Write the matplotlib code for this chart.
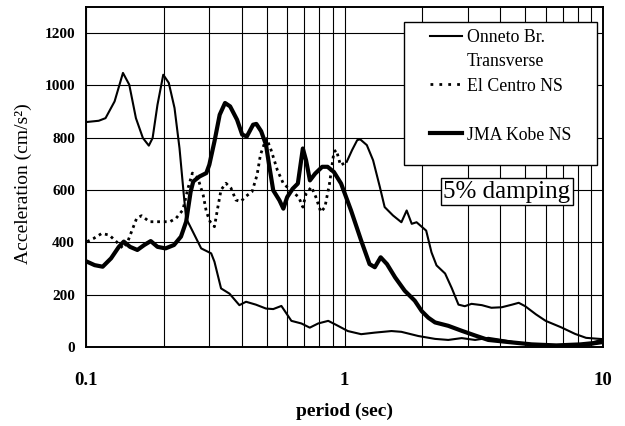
import matplotlib
matplotlib.use("Agg")
import matplotlib.pyplot as plt
from matplotlib.lines import Line2D
from matplotlib.patches import Rectangle
from matplotlib.ticker import LogLocator, FixedLocator, NullFormatter
import numpy as np

plt.rcParams['font.family'] = ['Liberation Serif', 'DejaVu Serif']

# ---------------- data ----------------
onneto_period = [0.100, 0.112, 0.119, 0.129, 0.139, 0.147, 0.156, 0.166, 0.175, 0.181,
                 0.189, 0.199, 0.209, 0.220, 0.230, 0.239, 0.244, 0.259, 0.279, 0.305,
                 0.314, 0.333, 0.359, 0.392, 0.416, 0.454, 0.497, 0.530, 0.570, 0.623,
                 0.681, 0.734, 0.791, 0.865, 0.931, 1.03, 1.16, 1.31, 1.52, 1.66,
                 1.93, 2.24, 2.52, 2.84, 3.2, 3.6, 4.06, 4.9, 5.8, 6.9, 8.6, 10.0]
onneto_acc = [860, 865, 875, 939, 1048, 1003, 875, 799, 770, 799,
              926, 1041, 1010, 914, 760, 581, 492, 441, 377, 358,
              326, 224, 204, 160, 173, 162, 147, 145, 157, 100,
              90, 74, 90, 100, 84, 61, 49, 55, 61, 58,
              42, 31, 27, 34, 27, 35, 27, 12, 6, 3, 6, 15]

elcentro_period = [0.101, 0.107, 0.115, 0.123, 0.131, 0.139, 0.145, 0.157, 0.164, 0.176,
                   0.193, 0.211, 0.223, 0.237, 0.248, 0.258, 0.271, 0.284, 0.292, 0.302,
                   0.314, 0.323, 0.333, 0.348, 0.364, 0.380, 0.397, 0.414, 0.439, 0.459,
                   0.473, 0.490, 0.500, 0.520, 0.550, 0.580, 0.610, 0.665, 0.690, 0.710,
                   0.745, 0.775, 0.810, 0.840, 0.875, 0.910, 0.930, 0.965, 1.02, 1.07,
                   1.12, 1.15, 1.22, 1.29, 1.37, 1.43, 1.54, 1.66, 1.74, 1.82,
                   1.90, 2.07, 2.17, 2.27, 2.45, 2.60, 2.76, 2.92, 3.1, 3.4,
                   3.7, 4.06, 4.45, 4.72, 5.0, 5.5, 6.0, 6.9, 7.8, 8.6, 9.7, 10.0]
elcentro_acc = [403, 415, 434, 428, 403, 377, 403, 492, 502, 479,
                479, 479, 492, 524, 607, 665, 645, 581, 518, 479,
                460, 530, 601, 626, 607, 562, 556, 575, 594, 658,
                735, 778, 797, 753, 676, 625, 605, 573, 535, 586,
                612, 573, 516, 535, 625, 746, 753, 695, 708, 753,
                791, 794, 772, 714, 612, 535, 503, 477, 522, 471,
                477, 445, 362, 312, 281, 225, 162, 156, 165, 160,
                150, 152, 162, 169, 156, 125, 100, 75, 50, 35, 31, 30]

kobe_period = [0.101, 0.108, 0.116, 0.125, 0.134, 0.140, 0.148, 0.158, 0.168, 0.178,
               0.189, 0.203, 0.219, 0.233, 0.244, 0.254, 0.260, 0.275, 0.292, 0.300,
               0.314, 0.329, 0.345, 0.361, 0.384, 0.402, 0.419, 0.443, 0.456, 0.476,
               0.497, 0.510, 0.530, 0.560, 0.580, 0.600, 0.630, 0.660, 0.690, 0.710,
               0.735, 0.770, 0.820, 0.860, 0.910, 0.970, 1.06, 1.16, 1.25, 1.31,
               1.38, 1.46, 1.57, 1.71, 1.87, 1.99, 2.11, 2.24, 2.52, 2.84,
               3.2, 3.6, 4.3, 5.3, 6.6, 8.2, 9.2, 10.0]
kobe_acc = [326, 313, 307, 339, 383, 403, 383, 371, 390, 405,
            383, 377, 390, 422, 479, 594, 633, 652, 665, 697,
            786, 888, 933, 920, 869, 812, 805, 850, 853, 825,
            773, 701, 599, 561, 529, 573, 605, 625, 759, 714,
            637, 663, 689, 689, 669, 625, 522, 407, 317, 305,
            343, 317, 266, 215, 177, 137, 112, 94, 81, 62,
            44, 27, 19, 10, 6, 10, 15, 25]

y_ticks = [0, 200, 400, 600, 800, 1000, 1200]
x_ticks = [0.1, 1, 10]
x_ticklabels = ["0.1", "1", "10"]

labels = ["Onneto Br.", "Transverse", "El Centro NS", " ", "JMA Kobe NS"]
damping_text = "5% damping"

# ---------------- figure ----------------
fig = plt.figure(figsize=(6.25, 4.26), dpi=100)
ax = fig.add_axes([86 / 625, 1 - 347 / 426, 517 / 625, 340 / 426])

ax.set_xscale('log')
ax.set_xlim(0.1, 10)
ax.set_ylim(0, 1300)

ax.plot(onneto_period, onneto_acc, color='black', lw=1.5, zorder=3,
        solid_joinstyle='round')

ec_p = np.array(elcentro_period)
ec_a = np.array(elcentro_acc)
m1 = ec_p <= 1.02
m2 = ec_p >= 1.02
ax.plot(ec_p[m1], ec_a[m1], color='black', lw=2.0, linestyle=(0, (1.0, 1.4)), zorder=3)
ax.plot(ec_p[m2], ec_a[m2], color='black', lw=1.5, zorder=3, solid_joinstyle='round')

ax.plot(kobe_period, kobe_acc, color='black', lw=3.0, zorder=3, solid_joinstyle='round')

# grid
ax.xaxis.set_major_locator(FixedLocator(x_ticks))
ax.xaxis.set_minor_locator(LogLocator(base=10, subs=np.arange(2, 10)))
ax.xaxis.set_minor_formatter(NullFormatter())
ax.set_xticklabels(x_ticklabels)
ax.set_yticks(y_ticks)
ax.grid(True, which='major', axis='both', color='black', lw=0.8, zorder=1)
ax.grid(True, which='minor', axis='x', color='black', lw=0.8, zorder=1)
ax.set_axisbelow(True)

ax.tick_params(axis='both', which='both', length=0)
ax.tick_params(axis='x', pad=18, labelsize=13.5)
ax.tick_params(axis='y', pad=8, labelsize=11)
for t in ax.get_xticklabels() + ax.get_yticklabels():
    t.set_fontweight('bold')

for s in ax.spines.values():
    s.set_linewidth(1.4)

ax.set_xlabel("period (sec)", fontsize=14, fontweight='bold', va='center')
ax.xaxis.set_label_coords(0.5, -0.19)
ax.set_ylabel("Acceleration (cm/s²)", fontsize=14, va='center')
ax.yaxis.set_label_coords(-0.122, 0.48)

# legend box
ax.add_patch(Rectangle((0.615, 0.535), 0.373, 0.421, transform=ax.transAxes,
                       facecolor='white', edgecolor='black', lw=1.0, zorder=4))
handles = [Line2D([], [], color='black', lw=1.5),
           Line2D([], [], color='none'),
           Line2D([], [], color='black', lw=2.0, linestyle=(0, (1.0, 2.2))),
           Line2D([], [], color='none'),
           Line2D([], [], color='black', lw=3.0)]
leg = ax.legend(handles, labels, loc='upper left', bbox_to_anchor=(0.665, 0.936),
                frameon=False, borderpad=0, borderaxespad=0, fontsize=12.8,
                handlelength=1.8, handletextpad=0.28, labelspacing=0.42)
leg.set_zorder(6)

ax.text(0.814, 0.456, damping_text, transform=ax.transAxes, ha='center', va='center',
        fontsize=18, zorder=6,
        bbox=dict(boxstyle='square,pad=0.1', facecolor='white', edgecolor='black', lw=1.0))

fig.savefig("out.png", dpi=100)
